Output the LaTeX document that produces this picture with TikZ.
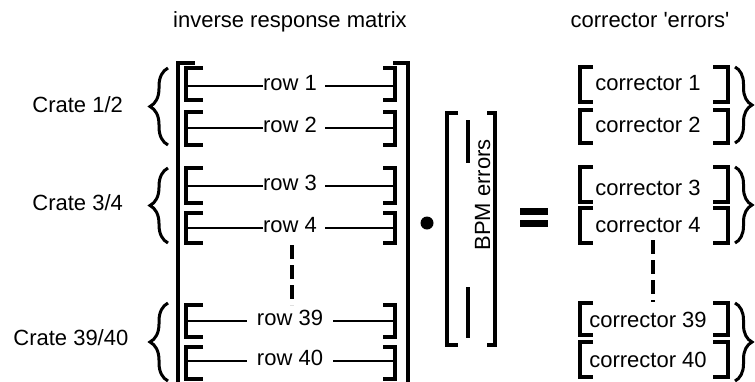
\documentclass[tikz,border=0pt]{standalone}
\usepackage{fontspec}
\setmainfont{Liberation Sans}
\usetikzlibrary{decorations.pathreplacing,calc}
\begin{document}
\begin{tikzpicture}[x=0.5pt,y=-0.5pt,
  font=\fontsize{11}{13}\selectfont,
  brk/.style={line width=1.7pt, line cap=butt, line join=miter},
  rowline/.style={line width=1.1pt},
  txt/.style={inner sep=0pt, anchor=base},
  lbrc/.style={line width=1.5pt, decorate, decoration={brace, amplitude=9pt}},
  rbrc/.style={line width=1.5pt, decorate, decoration={brace, amplitude=8.5pt}},
  dsh/.style={line width=1.7pt, dash pattern=on 7pt off 3pt},
]
\clip (0,0) rectangle (755,381);

% titles
\node[txt] (t1) at (290,27) {inverse response matrix};
\node[txt] (t2) at (650,27) {corrector \textquotesingle errors\textquotesingle};

% crate labels
\node[txt, anchor=base west] (c12) at (32,112) {Crate 1/2};
\node[txt, anchor=base west] (c34) at (32,210) {Crate 3/4};
\node[txt, anchor=base west] (c3940) at (13,345) {Crate 39/40};

% left braces
\draw[lbrc] (168,145) -- (168,68);
\draw[lbrc] (168,243) -- (168,168);
\draw[lbrc] (168,381) -- (168,303);

% outer matrix brackets
\draw[brk] (195,63) -- (178,63) -- (178,390);
\draw[brk] (393,63) -- (408,63) -- (408,390);

% rows
\foreach \n/\lab/\tp/\bt/\yb/\gl/\gr in {1/row 1/68/100/90/0/8, 2/row 2/112/145/132/0/8, 3/row 3/168/203/190/0/8, 4/row 4/213/243/232/0/8, 39/row 39/305/337/325/10/10, 40/row 40/347/379/365/10/10}{
  \draw[brk] (203,\tp) -- (186,\tp) -- (186,\bt) -- (203,\bt);
  \draw[brk] (383,\tp) -- (395,\tp) -- (395,\bt) -- (383,\bt);
  \node[txt] (r\n) at (290,\yb) {\lab};
  \coordinate (rl\n) at (186,\yb-4);
  \coordinate (rr\n) at (395,\yb-4);
  \draw[rowline] (rl\n) -- ($(r\n.west |- rl\n)+(-\gl,0)$);
  \draw[rowline] ($(r\n.east |- rr\n)+(\gr,0)$) -- (rr\n);
}
\coordinate (d1a) at (292,245);
\coordinate (d1b) at (292,305);
\draw[dsh] (d1a) -- (d1b);

% product dot
\node[circle, fill, inner sep=0pt, minimum size=6.5pt] (dot) at (427,223) {};

% BPM errors vector
\draw[brk] (458,113) -- (447,113) -- (447,345) -- (458,345);
\draw[brk] (487,113) -- (495,113) -- (495,345) -- (487,345);
\draw[brk] (468,120) -- (468,163);
\draw[brk] (468,287) -- (468,338);
\node[txt, rotate=90] (bpm) at (490,195) {BPM errors};

% equals sign
\fill (520,208) rectangle (548,215);
\fill (520,220) rectangle (548,227);

% correctors
\foreach \n/\tp/\bt/\yb in {1/67/102/90, 2/110/143/132, 3/167/202/195, 4/208/243/232, 39/303/335/327, 40/342/377/367}{
  \draw[brk] (593,\tp) -- (580,\tp) -- (580,\bt) -- (593,\bt);
  \draw[brk] (713,\tp) -- (728,\tp) -- (728,\bt) -- (713,\bt);
  \node[txt] (k\n) at (648,\yb) {corrector \n};
}
\coordinate (d2a) at (653,240);
\coordinate (d2b) at (653,302);
\draw[dsh] (d2a) -- (d2b);

% right braces
\draw[rbrc] (735,67) -- (735,143);
\draw[rbrc] (735,167) -- (735,243);
\draw[rbrc] (735,303) -- (735,381);
\end{tikzpicture}
\end{document}
